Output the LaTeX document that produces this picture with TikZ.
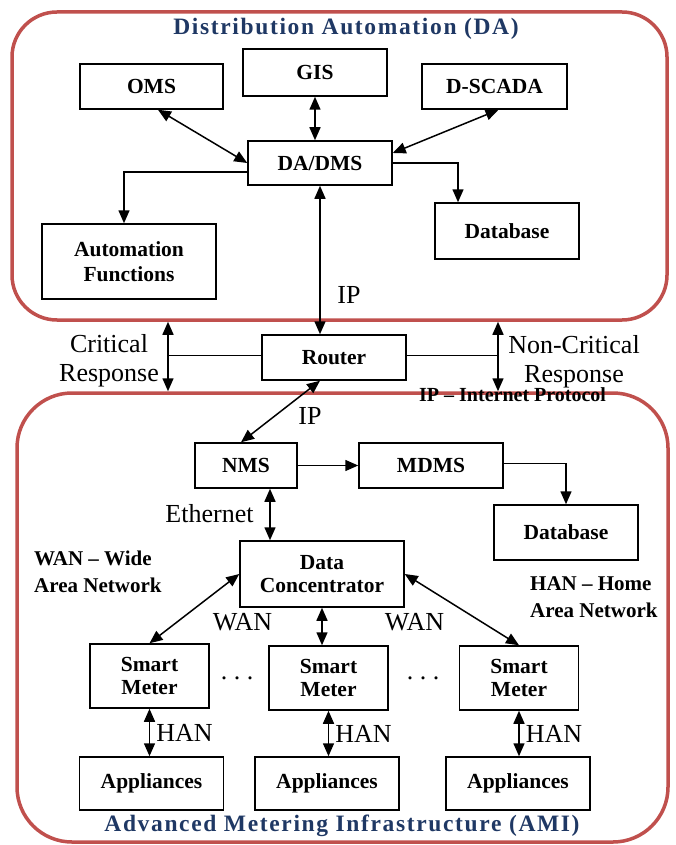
\documentclass[tikz,border=0pt]{standalone}
\usepackage{fontspec}
\setmainfont{Liberation Serif}
\usepackage{tikz}
\usetikzlibrary{arrows.meta}
\definecolor{zonered}{RGB}{192,80,77}
\definecolor{titleblue}{RGB}{31,56,100}
\tikzset{
  blk/.style={draw, line width=1.5pt, inner sep=0pt, align=center,
              font=\fontsize{21.5}{23}\selectfont\bfseries},   % boxes
  zone/.style={draw=zonered, line width=3.5pt, inner sep=0pt},  % red frames
  ztitle/.style={text=titleblue, inner sep=0pt, anchor=base,
                 font=\fontsize{23.5}{25}\selectfont\bfseries\addfontfeature{LetterSpace=7}},
  lab/.style={font=\fontsize{26}{29}\selectfont, inner sep=0pt, align=center},
  note/.style={font=\fontsize{21}{27}\selectfont\bfseries, inner sep=0pt, align=left},
  both/.style={line width=1.5pt, {Triangle[length=13pt,width=11pt]}-{Triangle[length=13pt,width=11pt]}},
  one/.style={line width=1.5pt, -{Triangle[length=13pt,width=11pt]}},
}

\begin{document}
\begin{tikzpicture}[x=1pt,y=-1pt]
\useasboundingbox (0,0) rectangle (676,845);

% frames
\node[zone, rounded corners=45pt, minimum width=655pt, minimum height=308pt] (da) at (339.5,166) {};
\node[zone, rounded corners=55pt, minimum width=651pt, minimum height=449pt] (ami) at (342.5,617.5) {};
\node[ztitle] at (346,35) {Distribution Automation (DA)};
\node[ztitle] at (342,831) {Advanced Metering Infrastructure (AMI)};

% distribution automation boxes
\node[blk, minimum width=143pt, minimum height=45pt] (oms) at (151.5,86.5) {OMS};
\node[blk, minimum width=144pt, minimum height=47pt] (gis) at (315,72.5) {GIS};
\node[blk, minimum width=145pt, minimum height=45pt] (dscada) at (494.5,86.5) {D-SCADA};
\node[blk, minimum width=144pt, minimum height=44pt] (dadms) at (320,163) {DA/DMS};
\node[blk, minimum width=174pt, minimum height=75pt, font=\fontsize{21.5}{25}\selectfont\bfseries] (autof) at (129,261.5) {Automation\\Functions};
\node[blk, minimum width=144pt, minimum height=56pt] (dbda) at (507,231) {Database};

\draw[both] ([xshift=6.5pt]oms.south) -- (dadms.west);
\draw[both] (gis.south) -- (gis.south |- dadms.north);
\draw[both] ([xshift=4pt]dscada.south) -- ([yshift=10pt]dadms.east);
\draw[one] ([yshift=-9pt]dadms.west) -| ([xshift=-5pt]autof.north);
\draw[one] (dadms.east) -| ([xshift=-49pt]dbda.north);

% router
\node[blk, minimum width=144pt, minimum height=45pt] (router) at (334,357.5) {Router};
\draw[both] (dadms.south) -- (dadms.south |- router.north);
\node[lab, anchor=base] at (349,303) {IP};

% critical / non-critical response
\coordinate (crit) at (168,355);
\coordinate (ncrit) at (498,355);
\draw[line width=0.9pt] (crit) -- (router.west |- crit);
\draw[line width=0.9pt] (ncrit) -- (router.east |- ncrit);
\draw[both] (da.south -| crit) -- (ami.north -| crit);
\draw[both] (da.south -| ncrit) -- (ami.north -| ncrit);
\node[lab, anchor=base] at (109,381) {Critical\\Response};
\node[lab, anchor=base] at (574,382) {Non-Critical\\Response};
\node[note, anchor=base west, font=\fontsize{20}{22}\selectfont\bfseries] at (419,401) {IP -- Internet Protocol};

% metering boxes
\node[blk, minimum width=102pt, minimum height=45pt] (nms) at (246,465.5) {NMS};
\node[blk, minimum width=144pt, minimum height=45pt] (mdms) at (431,465.5) {MDMS};
\node[blk, minimum width=144pt, minimum height=55pt] (dbami) at (566,532.5) {Database};
\node[blk, minimum width=164pt, minimum height=66pt] (dc) at (322,574) {Data\\Concentrator};

\draw[both] ([xshift=-14pt]router.south) -- ([xshift=-5pt]nms.north);
\node[lab, anchor=base] at (310,424) {IP};
\draw[one] (nms.east) -- (mdms.west);
\draw[one] ([yshift=2pt]mdms.east) -| (dbami.north);
\draw[both] ([xshift=24pt]nms.south) -- ([xshift=24pt]nms.south |- dc.north);
\node[lab, anchor=base] at (209.5,522) {Ethernet};

% smart meters and appliances
\foreach \i/\x/\y in {1/149.5/676, 2/328.5/678, 3/519/678}
  \node[blk, minimum width=119pt, minimum height=64pt] (sm\i) at (\x,\y) {Smart\\Meter};
\foreach \i/\x in {1/151.5, 2/327, 3/518}
  \node[blk, minimum width=144pt, minimum height=53pt] (ap\i) at (\x,783.5) {Appliances};
\foreach \i in {1,2,3}
  \draw[both] (sm\i.south) -- (sm\i.south |- ap\i.north)
    node[lab, midway, anchor=west, xshift=6pt] {HAN};

\draw[both] (dc.west) -- (sm1.north);
\draw[both] (dc.south) -- (dc.south |- sm2.north);
\draw[both] (dc.east) -- (sm3.north);
\node[lab, anchor=base] at (242.5,630) {WAN};
\node[lab, anchor=base] at (414.5,630) {WAN};
\node[lab, anchor=base] at (237,679) {.\ .\ .};
\node[lab, anchor=base] at (423,679) {.\ .\ .};

% side notes
\node[note, anchor=base west] at (34,592) {WAN -- Wide\\Area Network};
\node[note, anchor=base west] at (530,617) {HAN -- Home\\Area Network};
\end{tikzpicture}
\end{document}
